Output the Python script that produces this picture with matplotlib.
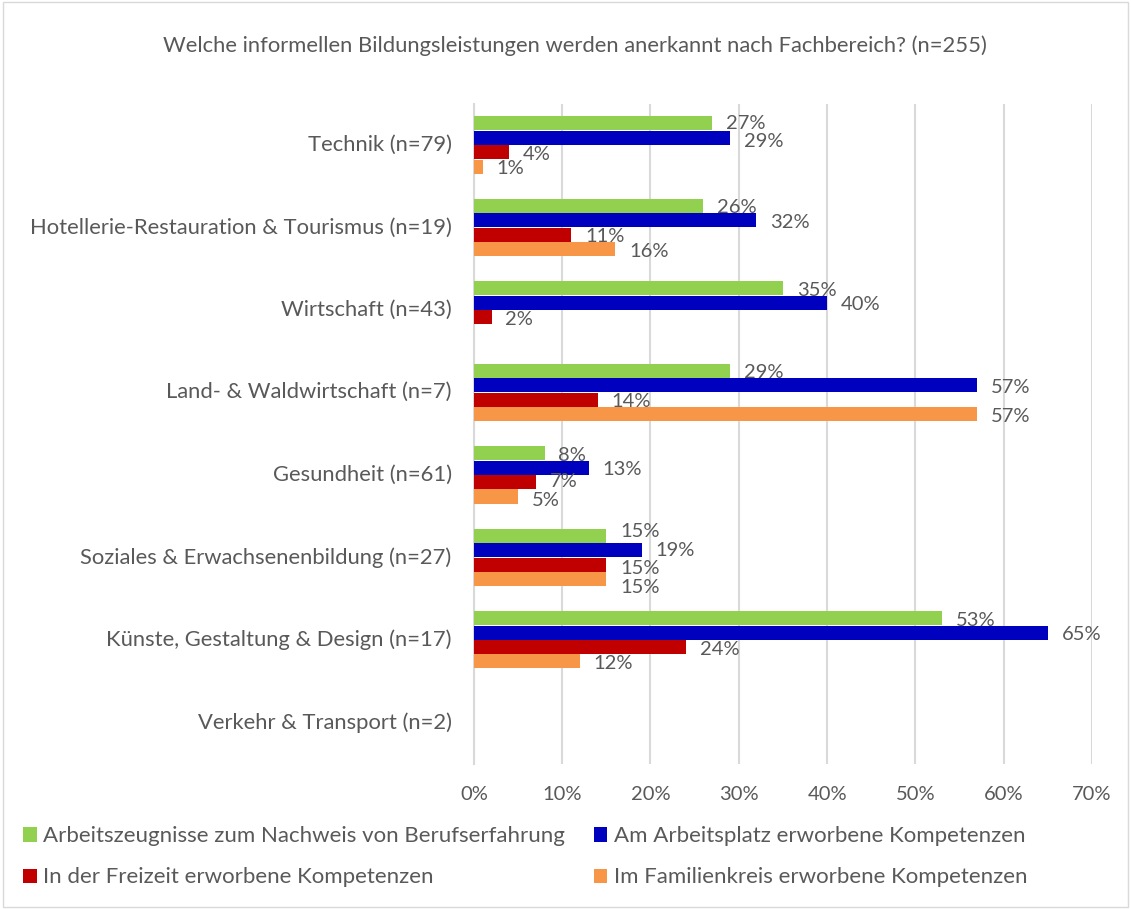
import numpy as np
import matplotlib
matplotlib.use("Agg")
import matplotlib.pyplot as plt
from matplotlib.patches import Rectangle

# --- Data ---
categories = [
    "Technik (n=79)",
    "Hotellerie-Restauration & Tourismus (n=19)",
    "Wirtschaft (n=43)",
    "Land- & Waldwirtschaft (n=7)",
    "Gesundheit (n=61)",
    "Soziales & Erwachsenenbildung (n=27)",
    "Künste, Gestaltung & Design (n=17)",
    "Verkehr & Transport (n=2)",
]
series_names = [
    "Arbeitszeugnisse zum Nachweis von Berufserfahrung",
    "Am Arbeitsplatz erworbene Kompetenzen",
    "In der Freizeit erworbene Kompetenzen",
    "Im Familienkreis erworbene Kompetenzen",
]
arbeitszeugnisse = [27, 26, 35, 29, 8, 15, 53, np.nan]
arbeitsplatz = [29, 32, 40, 57, 13, 19, 65, np.nan]
freizeit = [4, 11, 2, 14, 7, 15, 24, np.nan]
familienkreis = [1, 16, np.nan, 57, 5, 15, 12, np.nan]
x_ticks = [0, 10, 20, 30, 40, 50, 60, 70]

colors = ["#92D050", "#0000BF", "#C00000", "#F79646"]
text_color = "#595959"

plt.rcParams["font.family"] = ["Lato", "DejaVu Sans"]

fig = plt.figure(figsize=(11.31, 9.09), dpi=100)
ax = fig.add_axes([0.419, 0.160, 0.5465, 0.726])

all_series = [arbeitszeugnisse, arbeitsplatz, freizeit, familienkreis]
y = np.arange(len(categories))
step = 0.175
bar_h = 0.17
label_dx, label_dy = 10, -1.5  # points

# value labels per category, top to bottom
groups = {c: [] for c in range(len(categories))}
for i, (vals, col, name) in enumerate(zip(all_series, colors, series_names)):
    vals = np.array(vals, dtype=float)
    pos = y + (i - 1.5) * step
    ax.barh(pos, np.nan_to_num(vals), height=bar_h, color=col, label=name, zorder=3)
    for c, (p, v) in enumerate(zip(pos, vals)):
        if np.isnan(v):
            continue
        t = ax.annotate(f"{v:.0f}%", xy=(v, p), xytext=(label_dx, label_dy), textcoords="offset points",
                        va="center", ha="left", fontsize=14.5, color=text_color)
        groups[c].append(t)

ax.set_ylim(len(categories) - 0.5, -0.5)
ax.set_xlim(0, 70)
ax.set_xticks(x_ticks)
ax.set_xticklabels([f"{t}%" for t in x_ticks], fontsize=14.5, color=text_color)
ax.set_yticks(y)
ax.set_yticklabels(categories, fontsize=15.8, color=text_color)
for lbl in ax.get_yticklabels():
    lbl.set_va("center")
ax.tick_params(length=0)
ax.tick_params(axis="x", pad=16)
ax.tick_params(axis="y", pad=16)
ax.grid(axis="x", color="#D9D9D9", linewidth=1.5, zorder=0)
for s in ["top", "right", "bottom"]:
    ax.spines[s].set_visible(False)
ax.spines["left"].set_color("#D9D9D9")
ax.spines["left"].set_linewidth(1.5)

fig.text(0.508, 0.950, "Welche informellen Bildungsleistungen werden anerkannt nach Fachbereich? (n=255)",
         ha="center", va="center", fontsize=15.8, color=text_color)

# Excel fills the legend row by row
handles, labels = ax.get_legend_handles_labels()
order = [0, 2, 1, 3]
fig.legend([handles[k] for k in order], [labels[k] for k in order],
           loc="upper left", bbox_to_anchor=(0.003, 0.113), ncol=2,
           frameon=False, fontsize=16, labelcolor=text_color,
           handlelength=0.6, handleheight=0.6, handletextpad=0.3,
           columnspacing=1.3, labelspacing=0.95)

# push apart value labels that would overlap (like Excel does)
fig.canvas.draw()
renderer = fig.canvas.get_renderer()
min_gap = 13.5  # points
for c, texts in groups.items():
    offs = [0.0] * len(texts)
    for _ in range(5):
        for k in range(1, len(texts)):
            for j in range(k):
                a = texts[j].get_window_extent(renderer)
                b = texts[k].get_window_extent(renderer)
                if a.x1 - 2 < b.x0 or b.x1 - 2 < a.x0:
                    continue
                ya = texts[j].xy[1]
                yb = texts[k].xy[1]
                # distance in points between the two label centres
                dy = (ax.transData.transform((0, yb))[1] - ax.transData.transform((0, ya))[1]) * -72 / fig.dpi
                gap = dy + offs[j] - offs[k]
                if gap < min_gap:
                    shift = (min_gap - gap) / 2
                    offs[j] += shift
                    offs[k] -= shift
                    texts[j].set_position((label_dx, label_dy + offs[j]))
                    texts[k].set_position((label_dx, label_dy + offs[k]))

# light border around the chart area
fig.patches.append(Rectangle((0.003, 0.002), 0.994, 0.996, transform=fig.transFigure,
                             fill=False, edgecolor="#D9D9D9", linewidth=1))

fig.savefig("out.png", dpi=100)
